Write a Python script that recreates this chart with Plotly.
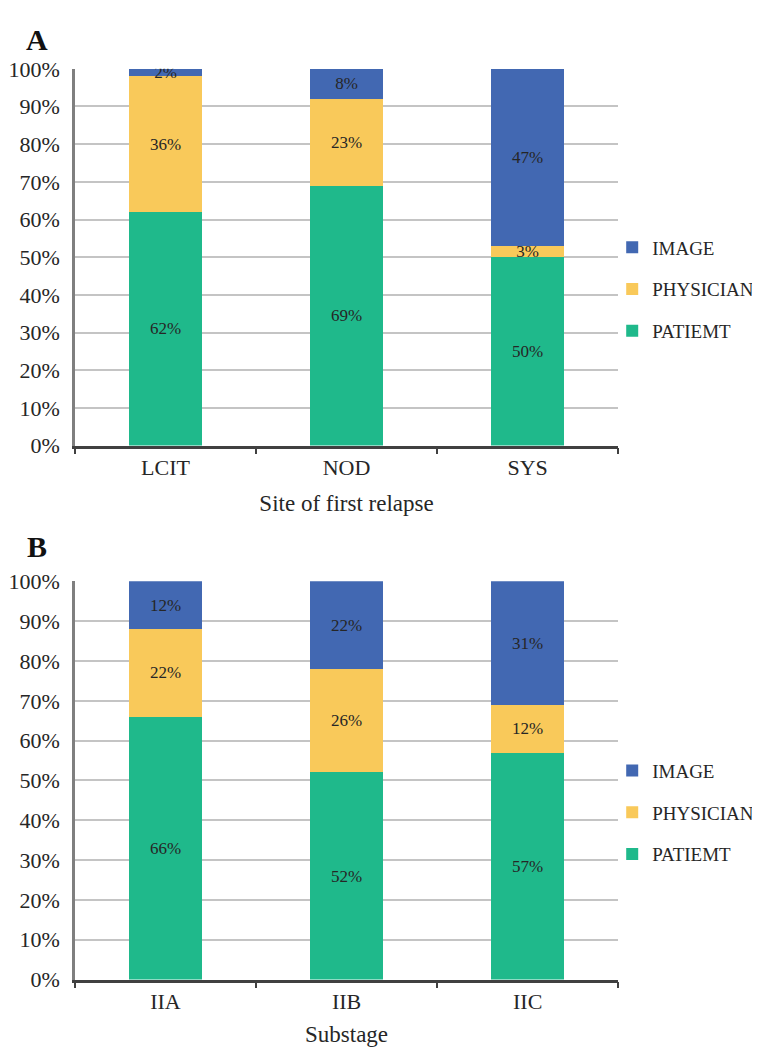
import plotly.graph_objects as go

# Panel A data
sites = ["LCIT", "NOD", "SYS"]
site_patient = [62, 69, 50]
site_physician = [36, 23, 3]
site_image = [2, 8, 47]

# Panel B data
substages = ["IIA", "IIB", "IIC"]
sub_patient = [66, 52, 57]
sub_physician = [22, 26, 12]
sub_image = [12, 22, 31]

series_names = ["PATIEMT", "PHYSICIAN", "IMAGE"]
legend_rank = {"IMAGE": 1, "PHYSICIAN": 2, "PATIEMT": 3}
colors = {"PATIEMT": "#1FB98B", "PHYSICIAN": "#F9C95A", "IMAGE": "#4268B2"}

FONT = "Liberation Serif"
TXT = "#262626"

fig = go.Figure()

panels = [
    (sites, [site_patient, site_physician, site_image], "x", "y", "legend"),
    (substages, [sub_patient, sub_physician, sub_image], "x2", "y2", "legend2"),
]
for cats, vals, xa, ya, lg in panels:
    for name, v in zip(series_names, vals):
        fig.add_trace(go.Bar(
            x=cats, y=v, name=name, xaxis=xa, yaxis=ya, legend=lg,
            legendgroup=name + lg, legendrank=legend_rank[name],
            marker=dict(color=colors[name], line=dict(width=0)),
            text=[f"{val}%" for val in v], texttemplate="%{text}",
            textposition="inside", insidetextanchor="middle",
            textfont=dict(family=FONT, size=17, color=TXT),
            hoverinfo="skip",
        ))

W, H = 760, 1050
x0, x1 = 66 / W, 610 / W

def ydom(top, bottom):
    return [(H - bottom) / H, (H - top) / H]

xcommon = dict(
    domain=[x0, x1], type="category",
    showline=True, linecolor="#404040", linewidth=2.5,
    ticks="outside", tickson="boundaries", ticklen=6, tickwidth=2,
    tickcolor="#404040", showgrid=False,
    tickfont=dict(family=FONT, size=22, color=TXT),
)
ycommon = dict(
    range=[0, 100], dtick=10, ticksuffix="%",
    showline=True, linecolor="#7f7f7f", linewidth=2.5,
    showgrid=True, gridcolor="#c4c4c4", gridwidth=2,
    ticks="", ticklabelstandoff=8, zeroline=False,
    tickfont=dict(family=FONT, size=22, color=TXT),
)

legcommon = dict(
    x=604 / W, xanchor="left", yanchor="middle",
    traceorder="grouped", tracegroupgap=14,
    font=dict(family=FONT, size=19, color=TXT),
    itemwidth=30, bgcolor="rgba(0,0,0,0)",
)

fig.update_layout(
    width=W, height=H,
    margin=dict(l=0, r=0, t=0, b=0),
    paper_bgcolor="white", plot_bgcolor="white",
    barmode="stack", bargap=0.6,
    uniformtext=dict(minsize=17, mode="show"),
    xaxis=dict(xcommon, anchor="y",
               title=dict(text="Site of first relapse", standoff=17,
                          font=dict(family=FONT, size=23, color=TXT))),
    yaxis=dict(ycommon, domain=ydom(50, 436), anchor="x"),
    xaxis2=dict(xcommon, anchor="y2",
                title=dict(text="Substage", standoff=14,
                           font=dict(family=FONT, size=23, color=TXT))),
    yaxis2=dict(ycommon, domain=ydom(575, 983), anchor="x2"),
    legend=dict(legcommon, y=(H - 276) / H),
    legend2=dict(legcommon, y=(H - 812) / H),
    showlegend=True,
    annotations=[
        dict(text="<b>A</b>", x=28 / W, y=(H - 20) / H, xref="paper", yref="paper",
             xanchor="center", yanchor="middle", showarrow=False,
             font=dict(family=FONT, size=30, color="#111111")),
        dict(text="<b>B</b>", x=28 / W, y=(H - 539) / H, xref="paper", yref="paper",
             xanchor="center", yanchor="middle", showarrow=False,
             font=dict(family=FONT, size=30, color="#111111")),
    ],
)

fig.write_html("out.html")
